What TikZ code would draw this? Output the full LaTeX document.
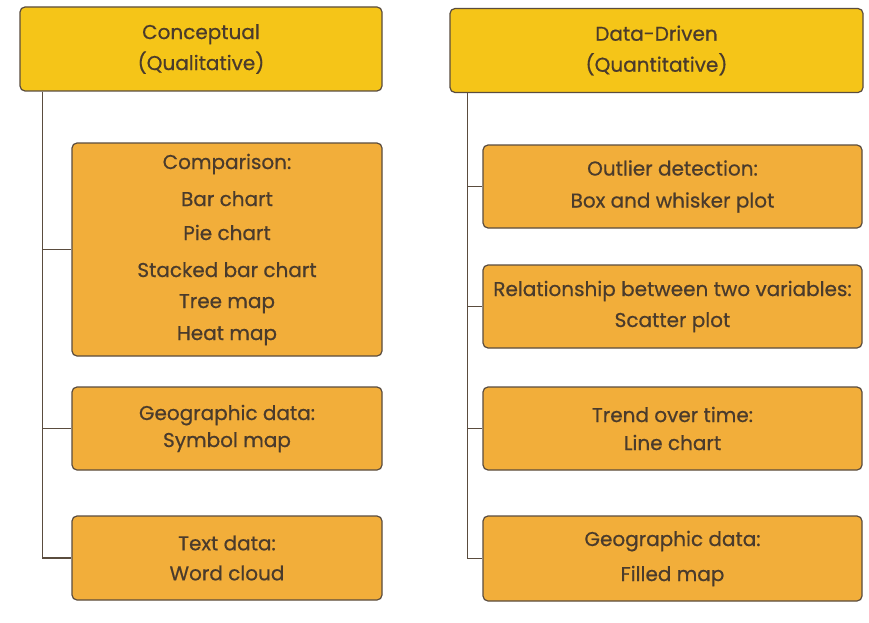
\documentclass[tikz,border=0pt]{standalone}
\usepackage{fontspec}
\setmainfont{Poppins}
\newfontfamily\boxfont{Poppins}[FakeBold=0.6]
\definecolor{headfill}{HTML}{F5C518}
\definecolor{itemfill}{HTML}{F2AE3A}
\definecolor{edgegray}{HTML}{5A4C3E}
\definecolor{inkbrown}{HTML}{4A3B2C}
\begin{document}
\begin{tikzpicture}[
    x=1pt, y=-1pt,
    box/.style={rectangle, rounded corners=5pt, draw=edgegray, line width=1.2pt,
        align=center, text=inkbrown, inner sep=0pt,
        font=\boxfont\fontsize{20}{31}\selectfont},
    head/.style={box, fill=headfill, minimum height=84pt},
    leftitem/.style={box, fill=itemfill, minimum width=310pt},
    rightitem/.style={box, fill=itemfill, minimum width=379pt, minimum height=83pt},
    link/.style={draw=edgegray, line width=1.1pt}
]
\useasboundingbox[fill=white] (0,0) rectangle (869,623);

% left column
\node[head, minimum width=362pt] (concept) at (201,49) {Conceptual\\(Qualitative)};
\node[leftitem, minimum height=213pt] (compare) at (227,249.5)
    {Comparison:\\[6pt]Bar chart\\[3pt]Pie chart\\[6pt]Stacked bar chart\\Tree map\\[1pt]Heat map};
\node[leftitem, minimum height=83pt] (geoleft) at (227,428.5) {Geographic data:\\[-4pt]Symbol map};
\node[leftitem, minimum height=84pt] (textdata) at (227,558) {Text data:\\[-1pt]Word cloud};

% right column
\node[head, minimum width=413pt] (datadriven) at (656.5,50.5) {Data-Driven\\(Quantitative)};
\node[rightitem] (outlier) at (672.5,186.5) {Outlier detection:\\[1pt]Box and whisker plot};
\node[rightitem] (relation) at (672.5,306.5) {Relationship between two variables:\\Scatter plot};
\node[rightitem] (trend) at (672.5,428.5) {Trend over time:\\[-3pt]Line chart};
\node[rightitem, minimum height=85pt] (geomap) at (672.5,558.5) {Geographic data:\\[4pt]Filled map};

% connectors
\foreach \child in {compare, geoleft, textdata}
    \draw[link] ([xshift=23pt]concept.south west) |- (\child.west);
\foreach \child in {outlier, relation, trend, geomap}
    \draw[link] ([xshift=18pt]datadriven.south west) |- (\child.west);
\end{tikzpicture}
\end{document}
